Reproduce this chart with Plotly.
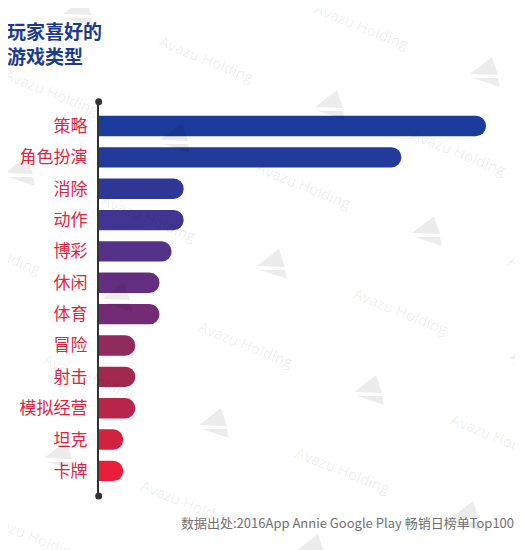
import plotly.graph_objects as go

# ---- data ----
categories = ["策略", "角色扮演", "消除", "动作", "博彩", "休闲", "体育", "冒险", "射击", "模拟经营", "坦克", "卡牌"]
counts = [32, 25, 7, 7, 6, 5, 5, 3, 3, 3, 2, 2]
bar_colors = ["#1b3b9b", "#223a99", "#2f3897", "#413591", "#54328a", "#642e80", "#742b75",
              "#912a5d", "#a32850", "#b7264a", "#d3223e", "#e91e36"]
title_text = "玩家喜好的<br>游戏类型"
source_text = "数据出处:2016App Annie Google Play 畅销日榜单Top100"
watermark_text = "Avazu Holding"

# page body has an 8px default margin: size the figure to fit the window
OFF = 8
W, H = 523 - OFF, 550 - OFF
FONT = "Noto Sans CJK SC"


def px(x):
    return (x - OFF) / W


def py(y):
    return 1 - (y - OFF) / H


fig = go.Figure()
fig.add_trace(go.Bar(
    x=counts, y=categories, orientation="h",
    marker=dict(color=bar_colors, line=dict(width=0)),
    width=0.65, hoverinfo="x+y",
))

shapes = []
annotations = []

# axis end dots
for yy in (101.7, 496):
    shapes.append(dict(type="circle", xref="paper", yref="paper",
                       x0=px(98.7 - 3.5), x1=px(98.7 + 3.5), y0=py(yy + 3.5), y1=py(yy - 3.5),
                       fillcolor="#333333", line=dict(width=0), layer="above"))

# watermark grid (decorative)
wm = "rgba(0,0,0,0.075)"
for i in range(-4, 5):
    for j in range(-4, 5):
        tx = 272 + i * 97 + j * 155
        ty = 264 + i * 126 - j * 33
        if -60 < tx < 523 + 60 and -60 < ty < 550 + 60:
            up = [(7, -15), (-15, 2), (13, 3)]
            lo = [(-12, 6), (13, 6), (15, 15)]
            for poly in (up, lo):
                path = "M " + " L ".join(f"{px(tx+a):.5f},{py(ty+b):.5f}" for a, b in poly) + " Z"
                shapes.append(dict(type="path", xref="paper", yref="paper", path=path,
                                   fillcolor=wm, line=dict(width=0), layer="above"))
        wx, wy = tx - 26, ty + 80
        if -80 < wx < 523 + 80 and -40 < wy < 550 + 40:
            annotations.append(dict(text=watermark_text, xref="paper", yref="paper",
                                    x=px(wx), y=py(wy), showarrow=False, textangle=22,
                                    font=dict(family="Open Sans", size=15, color=wm),
                                    xanchor="center", yanchor="middle"))

annotations.append(dict(text="<b>" + title_text + "</b>", xref="paper", yref="paper",
                        x=px(5), y=py(15), xanchor="left", yanchor="top", align="left",
                        showarrow=False, font=dict(family=FONT, size=19, color="#1c3a8e")))
annotations.append(dict(text=source_text, xref="paper", yref="paper",
                        x=px(516), y=py(522), xanchor="right", yanchor="middle",
                        showarrow=False, font=dict(family=FONT, size=13, color="#707070")))

fig.update_layout(
    width=W, height=H,
    margin=dict(l=0, r=0, t=0, b=0),
    paper_bgcolor="white", plot_bgcolor="white",
    barcornerradius=10,
    showlegend=False,
    shapes=shapes,
    annotations=annotations,
    xaxis=dict(domain=[px(99), 1], range=[0, (523 - 99) / ((486 - 99) / 32)], visible=False, fixedrange=True),
    yaxis=dict(domain=[py(496), py(101.7)], range=[11.8, -0.775],
               type="category", categoryorder="array", categoryarray=categories,
               showline=True, linecolor="#333333", linewidth=2, showgrid=False, zeroline=False,
               ticks="", ticklabelstandoff=6,
               tickfont=dict(family=FONT, size=17, color="#e5223f"), fixedrange=True),
)

fig.write_html("out.html")
